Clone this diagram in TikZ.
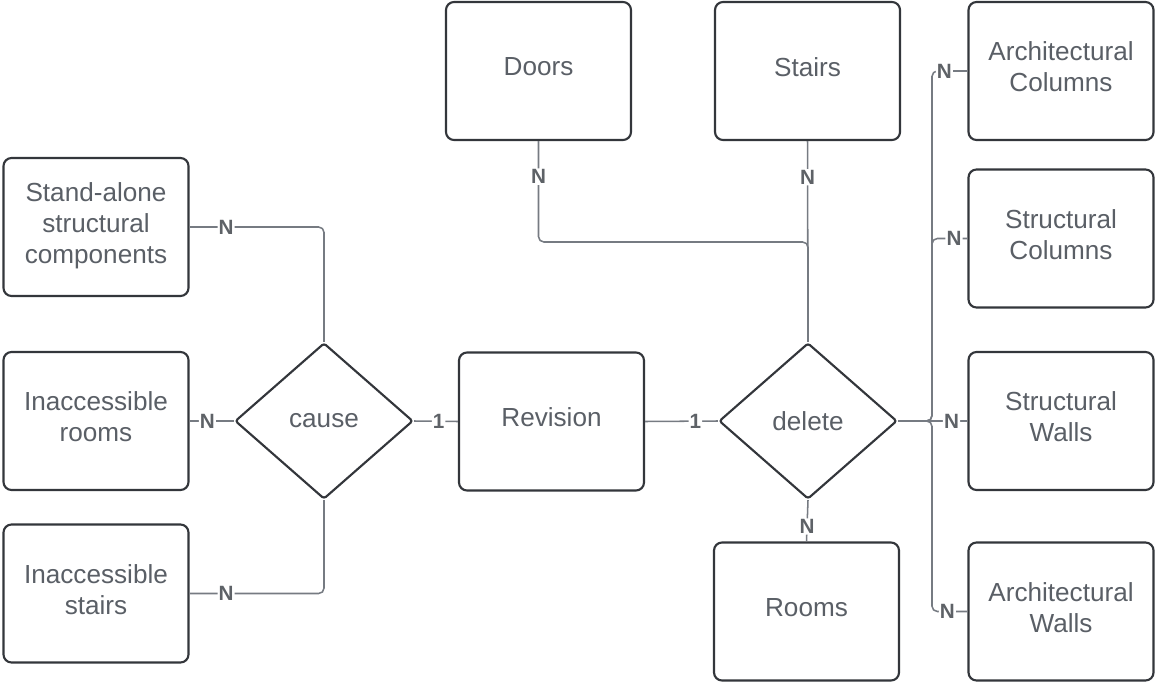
\documentclass[tikz,border=0pt]{standalone}
\usepackage{fontspec}
\setmainfont{Liberation Sans}
\usetikzlibrary{shapes.geometric}
\definecolor{boxline}{HTML}{33363B}
\definecolor{txt}{HTML}{5A5F66}
\definecolor{conn}{HTML}{767B82}
\definecolor{labc}{HTML}{5E6267}
\newcommand{\lowstrut}{\rule[-0.33em]{0pt}{0pt}}
\begin{document}
\begin{tikzpicture}[x=0.75pt,y=-0.75pt,
  entity/.style={draw=boxline, line width=1.6pt, rounded corners=6pt, fill=white,
    minimum width=138.75pt, minimum height=103.5pt, inner sep=0pt,
    text=txt, align=center, font=\fontsize{19.6pt}{23.25pt}\selectfont,
    execute at end node=\lowstrut},
  rel/.style={draw=boxline, line width=1.6pt, diamond, rounded corners=2pt, fill=white,
    minimum width=133.5pt, minimum height=117pt, inner sep=0pt,
    text=txt, font=\fontsize{19.6pt}{23.25pt}\selectfont},
  link/.style={draw=conn, line width=1.15pt, rounded corners=4pt},
  card/.style={fill=white, inner sep=0.8pt, text=labc, font=\fontsize{15.5pt}{17pt}\selectfont\bfseries}]
\useasboundingbox (0,0) rectangle (1155,684);

% entities
\node[entity] (doors) at (538.5,71) {Doors};
\node[entity] (stairs) at (807.5,71) {Stairs};
\node[entity] (acol) at (1061,71) {Architectural\\Columns};
\node[entity] (scol) at (1061,238.5) {Structural\\Columns};
\node[entity] (swall) at (1061,421) {Structural\\Walls};
\node[entity] (awall) at (1061,611.5) {Architectural\\Walls};
\node[entity] (rooms) at (806.5,611.5) {Rooms};
\node[entity] (rev) at (551.5,421.5) {Revision};
\node[entity] (sac) at (96,227) {Stand-alone\\structural\\components};
\node[entity] (ir) at (96,421) {Inaccessible\\rooms};
\node[entity] (is) at (96,593.5) {Inaccessible\\stairs};

% relationships
\node[rel] (cause) at (324,421) {cause};
\node[rel] (delete) at (808,421) {delete};

% cause side
\draw[link] (sac.east) -| node[card,pos=0.136] {N} (cause.north);
\draw[link] (ir.east) -- node[card,pos=0.4] {N} (cause.west);
\draw[link] (is.east) -| node[card,pos=0.136] {N} (cause.south);
\draw[link] (cause.east) -- node[card,pos=0.56] {1} (rev.west);

% delete side
\draw[link] (rev.east) -- node[card,pos=0.69] {1} (delete.west);
\draw[link] (delete.south) -- node[card,pos=0.64] {N} (rooms.north);
\draw[link] (stairs.south) -- node[card,pos=0.18] {N} (delete.north);
\draw[link] (doors.south) |- node[card,pos=0.176] {N} (808,242) -- (delete.north);
\coordinate (bus) at (932,421);
\draw[link] (delete.east) -- (bus) |- node[card,pos=0.675] {N} (acol.west);
\draw[link] (delete.east) -- (bus) |- node[card,pos=0.81] {N} (scol.west);
\draw[link] (delete.east) -- node[card,pos=0.77] {N} (swall.west);
\draw[link] (delete.east) -- (bus) |- node[card,pos=0.716] {N} (awall.west);
\end{tikzpicture}
\end{document}
